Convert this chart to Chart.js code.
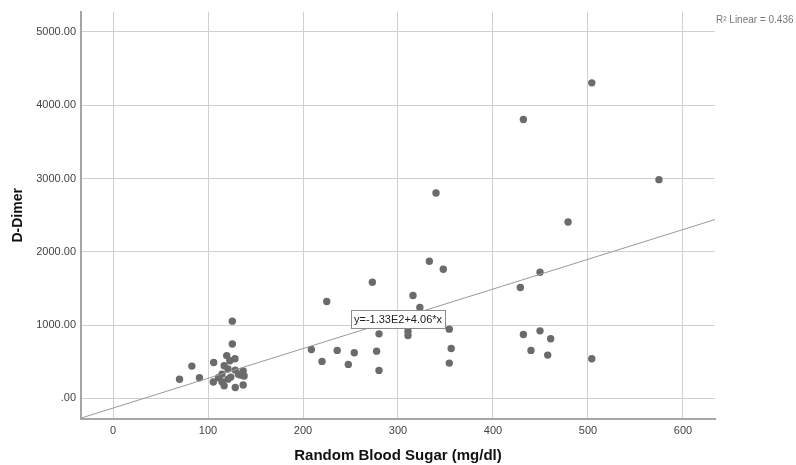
<!DOCTYPE html>
<html>
<head>
<meta charset="utf-8">
<script src="https://cdn.jsdelivr.net/npm/chart.js@4"></script>
<style>
  html, body { margin: 0; padding: 0; background: #fff; }
  #wrap { width: 796px; height: 465px; }
</style>
</head>
<body>
<div id="wrap"><canvas id="scatter"></canvas></div>
<script>
// random blood sugar (x) vs d-dimer (y)
let sugar = [70, 83, 91, 106, 125.6, 125.6, 119.7, 128.4, 123, 117, 121, 137, 128.7, 134, 138,
  114.7, 111, 105.6, 114.7, 121, 128.7, 137, 117, 124, 132,
  208.8, 220, 225, 236, 247.7, 254, 273, 277.5, 280, 280, 315.8, 323, 310.5, 310.5, 333,
  347.7, 340, 354, 356, 354, 428.8, 432, 432, 449.5, 449.5, 460.7, 440, 457.6, 504, 504, 574.7, 479];
let dimer = [260, 440, 280, 488, 1053, 742, 583, 540, 512, 445, 400, 375, 385, 317, 304,
  331, 281, 222, 226, 262, 147, 181, 170, 290, 330,
  667, 504, 1321, 654, 463, 621, 1584, 644, 880, 381, 1403, 1240, 917, 858, 1870,
  1762, 2802, 944, 681, 481, 1512, 872, 3805, 1720, 921, 812, 654, 590, 540, 4305, 2984, 2406];

// fit line y = a + b*x
let fitIntercept = -133;
let fitSlope = 4.06;
let fitLabel = "y=-1.33E2+4.06*x";
let r2Label = "R² Linear = 0.436";

let xTicks = [0, 100, 200, 300, 400, 500, 600];
let yTicks = [0, 1000, 2000, 3000, 4000, 5000];
let xMin = -33.7, xMax = 633.7;
let yMin = -282, yMax = 5277;

let points = [];
for(let i = 0; i < sugar.length; i++) points.push({x: sugar[i], y: dimer[i]});
let fitLine = [
  {x: xMin, y: fitIntercept + fitSlope*xMin},
  {x: xMax, y: fitIntercept + fitSlope*xMax}
];

const font = "Arial, 'Liberation Sans', sans-serif";

//draws the equation box and the R^2 text
const labels = {
  id: "labels",
  afterDatasetsDraw(chart){
    const c = chart.ctx;
    const xs = chart.scales.x, ys = chart.scales.y;
    c.save();
    c.font = "11px " + font;
    c.textBaseline = "middle";
    const w = c.measureText(fitLabel).width + 6;
    const cx = xs.getPixelForValue(300), cy = ys.getPixelForValue(1080);
    c.fillStyle = "#fff";
    c.fillRect(cx - w/2, cy - 9, w, 18);
    c.strokeStyle = "#8c8c8c";
    c.lineWidth = 1;
    c.strokeRect(Math.round(cx - w/2) + 0.5, Math.round(cy - 9) + 0.5, Math.round(w), 18);
    c.fillStyle = "#222";
    c.textAlign = "center";
    c.fillText(fitLabel, cx, cy + 0.5);

    c.font = "10px " + font;
    c.fillStyle = "#777";
    c.textAlign = "left";
    c.fillText(r2Label, chart.chartArea.right + 1, 20);
    c.restore();
  }
};

let ctx = document.getElementById("scatter");
let chart = new Chart(ctx, {
  type: "scatter",
  data: {
    datasets: [{
      label: "fit",
      type: "line",
      data: fitLine,
      borderColor: "#999",
      borderWidth: 1,
      pointRadius: 0,
      fill: false
    },{
      label: "D-Dimer",
      data: points,
      backgroundColor: "#6b6b6b",
      borderWidth: 0,
      pointRadius: 3.7
    }]
  },
  plugins: [labels],
  options: {
    responsive: true,
    maintainAspectRatio: false,
    animation: false,
    layout: { padding: { left: 0, right: 81, top: 11, bottom: 0 } },
    plugins: {
      legend: { display: false },
      tooltip: { enabled: false }
    },
    scales: {
      x: {
        type: "linear",
        min: xMin,
        max: xMax,
        afterBuildTicks: s => { s.ticks = xTicks.map(v => ({value: v})); },
        afterFit: s => { s.height = 46; },
        grid: { color: "#d0d0d0", drawTicks: false },
        border: { color: "#a6a6a6", width: 2 },
        ticks: { color: "#444", font: { family: font, size: 11 }, padding: 5 },
        title: {
          display: true,
          text: "Random Blood Sugar (mg/dl)",
          color: "#111",
          font: { family: font, size: 15, weight: "bold" },
          padding: { top: 0, bottom: 0 }
        }
      },
      y: {
        min: yMin,
        max: yMax,
        afterBuildTicks: s => { s.ticks = yTicks.map(v => ({value: v})); },
        afterFit: s => { s.width = 81; },
        grid: { color: "#d0d0d0", drawTicks: false },
        border: { color: "#a6a6a6", width: 2 },
        ticks: {
          color: "#444",
          font: { family: font, size: 11 },
          padding: 5,
          callback: v => v === 0 ? ".00" : v.toFixed(2)
        },
        title: {
          display: true,
          text: "D-Dimer",
          color: "#111",
          font: { family: font, size: 14, weight: "bold" },
          padding: { top: 10, bottom: 0 }
        }
      }
    }
  }
});
</script>
</body>
</html>
